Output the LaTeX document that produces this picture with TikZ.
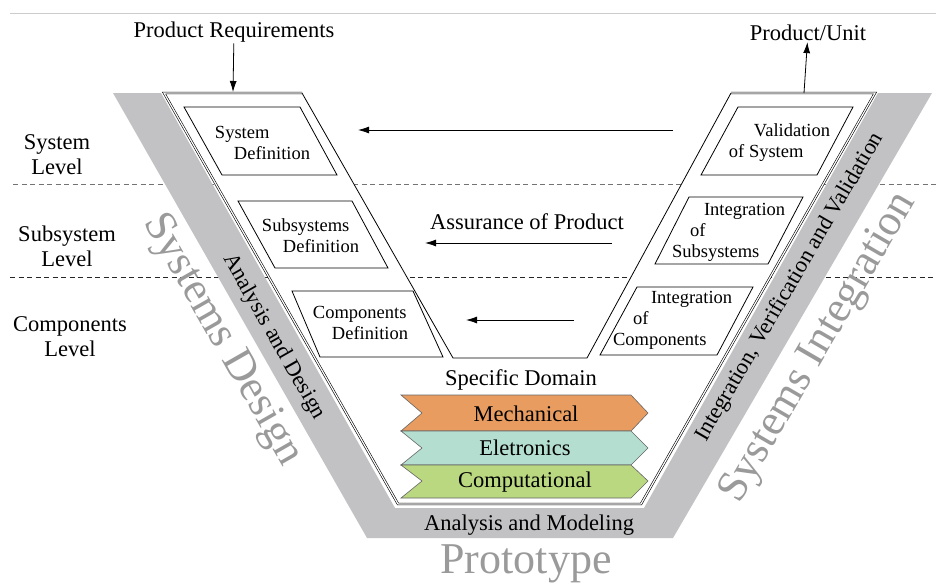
\documentclass[tikz,border=0pt]{standalone}
\usepackage{fontspec}
\setmainfont{Liberation Serif}
\usetikzlibrary{arrows.meta}
\definecolor{bandGray}{HTML}{C2C2C4}
\definecolor{bigText}{HTML}{9A9A9A}
\definecolor{mechOrange}{HTML}{E89C60}
\definecolor{elecTeal}{HTML}{B4DED0}
\definecolor{compGreen}{HTML}{BAD880}

\begin{document}
\begin{tikzpicture}[>={Latex[length=11pt, width=7pt]}, x=1pt, y=-1pt,
    txt/.style={font=\fontsize{22.5}{25}\selectfont, align=center, inner sep=1pt},
    boxtxt/.style={font=\fontsize{18.5}{21}\selectfont, align=left, inner sep=0pt},
    bigtxt/.style={font=\fontsize{44}{48}\selectfont, text=bigText, inner sep=0pt},
    box/.style={line width=0.8pt},
    chevron/.style={draw=black!60, line width=0.6pt}]

    \useasboundingbox (0,0) rectangle (936,587);

    % thin rule on top
    \draw[black!20, line width=1pt] (10,13) -- (936,13);

    % level separators
    \draw[black!55, dash pattern=on 5pt off 3.5pt] (13,184) -- (936,184);
    \draw[black!85, dash pattern=on 5pt off 3.5pt] (10,277) -- (936,277);

    % gray band of the V
    \fill[bandGray] (113,93) -- (367,538) -- (673,538) -- (932,93) -- (878,93)
        -- (644,508) -- (395,508) -- (161,93) -- cycle;

    % white V with the two arms
    \fill[white] (164,93) -- (398,504) -- (641,504) -- (875,93) -- (731,93)
        -- (587,358) -- (453,358) -- (302,93) -- cycle;
    \draw[line width=0.6pt, double, double distance=1.2pt] (302,93) -- (164,93)
        -- (398,504) -- (641,504) -- (875,93) -- (731,93);
    \draw[line width=0.8pt] (302,93) -- (453,358) -- (587,358) -- (731,93);

    % levels
    \node[txt] (lvsys) at (57,155) {System\\Level};
    \node[txt] (lvsub) at (67,246) {Subsystem\\Level};
    \node[txt] (lvcomp) at (70,337) {Components\\Level};

    % definition boxes (left arm)
    \draw[box] (184,107) -- (300,107) -- (337,175) -- (222,175) -- cycle;
    \node[boxtxt] (sysdef) at (262.5,142.5) {System\\\hspace*{19pt}Definition};
    \draw[box] (238,201) -- (352,201) -- (388,268) -- (275,268) -- cycle;
    \node[boxtxt] (subdef) at (310.5,236) {Subsystems\\\hspace*{21pt}Definition};
    \draw[box] (292,291) -- (413,291) -- (443,357) -- (320,357) -- cycle;
    \node[boxtxt] (compdef) at (360.5,323) {Components\\\hspace*{19pt}Definition};

    % integration boxes (right arm)
    \draw[box] (738,107) -- (853,107) -- (817,175) -- (701,175) -- cycle;
    \node[boxtxt] (valsys) at (779.5,142.5) {\hspace*{25pt}Validation\\of System};
    \draw[box] (689,197) -- (803,197) -- (768,264) -- (655,264) -- cycle;
    \node[boxtxt] (intsub) at (728.6,232) {\hspace*{32pt}Integration\\\hspace*{18pt}of\\Subsystems};
    \draw[box] (637,287) -- (753,287) -- (717,355) -- (600,355) -- cycle;
    \node[boxtxt] (intcomp) at (672.6,320) {\hspace*{38pt}Integration\\\hspace*{20pt}of\\Components};

    % inputs and outputs
    \node[txt] (req) at (234,32) {Product Requirements};
    \coordinate (reqin) at (233,92);
    \draw[->, line width=0.8pt] (req) -- (reqin);
    \node[txt] (unit) at (808,33) {Product/Unit};
    \coordinate (unitout) at (804,93);
    \draw[->, line width=0.8pt] (unitout) -- (unit);

    % assurance arrows
    \coordinate (as1) at (673,130);
    \coordinate (ae1) at (358,130);
    \draw[->, line width=0.8pt] (as1) -- (ae1);
    \coordinate (as2) at (612,243);
    \coordinate (ae2) at (425,243);
    \draw[->, line width=0.8pt] (as2) -- (ae2);
    \node[txt] (assure) at (527,222) {Assurance of Product};
    \coordinate (as3) at (574,320);
    \coordinate (ae3) at (466,320);
    \draw[->, line width=0.8pt] (as3) -- (ae3);

    % specific domains
    \node[txt] (domain) at (521,380) {Specific Domain};
    \draw[chevron, fill=mechOrange] (401,395) -- (631,395) -- (648,413) -- (631,431)
        -- (401,431) -- (422,413) -- cycle;
    \node[txt] (mech) at (526,414) {Mechanical};
    \draw[chevron, fill=elecTeal] (401,431) -- (631,431) -- (648,448) -- (631,465)
        -- (401,465) -- (422,448) -- cycle;
    \node[txt] (elec) at (525,448) {Eletronics};
    \draw[chevron, fill=compGreen] (401,465) -- (631,465) -- (648,481) -- (631,498)
        -- (401,498) -- (422,481) -- cycle;
    \node[txt] (comp) at (525,482) {Computational};

    % labels on the band
    \node[txt, rotate=-60.3] (anades) at (274,337) {Analysis and Design};
    \node[txt, rotate=59.8] (ivv) at (790,287) {Integration, Verification and Validation};
    \node[txt] (anamod) at (529,525) {Analysis and Modeling};

    % phases
    \node[bigtxt, rotate=-60.3] (sysdes) at (222,340) {Systems Design};
    \node[bigtxt, rotate=59.8] (sysint) at (819,348) {Systems Integration};
    \node[bigtxt, anchor=base] (proto) at (526,573) {Prototype};

\end{tikzpicture}
\end{document}
